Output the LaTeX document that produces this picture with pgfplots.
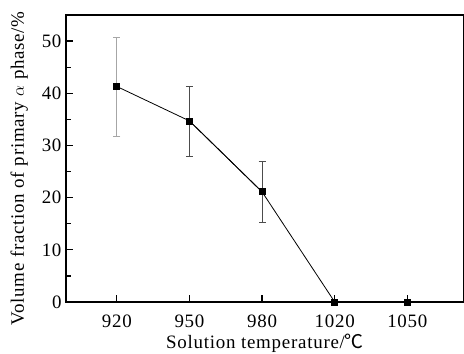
\documentclass[border=0pt]{standalone}
\usepackage{pgfplots}
\pgfplotsset{compat=1.18}
\usepackage{fontspec}
\setmainfont{Liberation Serif}[LetterSpace=4]
\newfontfamily\cjk{Noto Sans CJK SC}
\begin{document}
\begin{tikzpicture}
\begin{axis}[
  name=ax,
  scale only axis,
  width=398bp, height=287bp,
  xmin=-0.7, xmax=4.78,
  ymin=0, ymax=55,
  xtick={0,1,2,3,4},
  xticklabels={920,950,980,1020,1050},
  ytick={0,10,20,30,40,50},
  minor ytick={5,15,25,35,45},
  tick pos=left,
  tick align=inside,
  major tick length=7bp,
  minor tick length=5bp,
  every tick/.style={black, line width=1.2pt},
  axis line style={line width=1.3pt},
  /pgf/number format/assume math mode=true,
  tick label style={font=\fontsize{19}{21}\selectfont},
  label style={font=\fontsize{19}{21}\selectfont},
  xlabel={Solution temperature/{\cjk ℃}},
  ylabel={Volume fraction of primary $\alpha$ phase/\%},
  xlabel style={yshift=0bp},
  ylabel style={yshift=7bp, xshift=-10bp},
  xticklabel style={yshift=-9bp},
  yticklabel style={xshift=-1bp},
  clip=false,
]
\addplot[black, line width=0.8pt, mark=square*, mark size=3bp,
  error bars/.cd, y dir=both, y explicit,
  error bar style={gray!70, line width=0.8pt}, error mark options={rotate=90, mark size=3.5bp, gray!70}]
  coordinates {(0,41.3) +- (0,9.5)};
\addplot[black, line width=0.8pt, mark=square*, mark size=3bp,
  error bars/.cd, y dir=both, y explicit,
  error bar style={black!70, line width=0.8pt}, error mark options={rotate=90, mark size=3.5bp, black!70}]
  coordinates {(1,34.7) +- (0,6.7) (2,21.1) +- (0,5.8)};
\addplot[black, line width=0.8pt, mark=square*, mark size=3bp]
  coordinates {(0,41.3) (1,34.7) (2,21.1) (3,0) (4,0)};
\end{axis}
\path (ax.north west) ++(0,15bp) coordinate (tp);
\path (tp) ++(-66bp,0) coordinate (tl);
\path (ax.south east) ++(0,-52bp) coordinate (br);
\pgfresetboundingbox
\useasboundingbox (tl) rectangle (br);
\end{tikzpicture}
\end{document}
